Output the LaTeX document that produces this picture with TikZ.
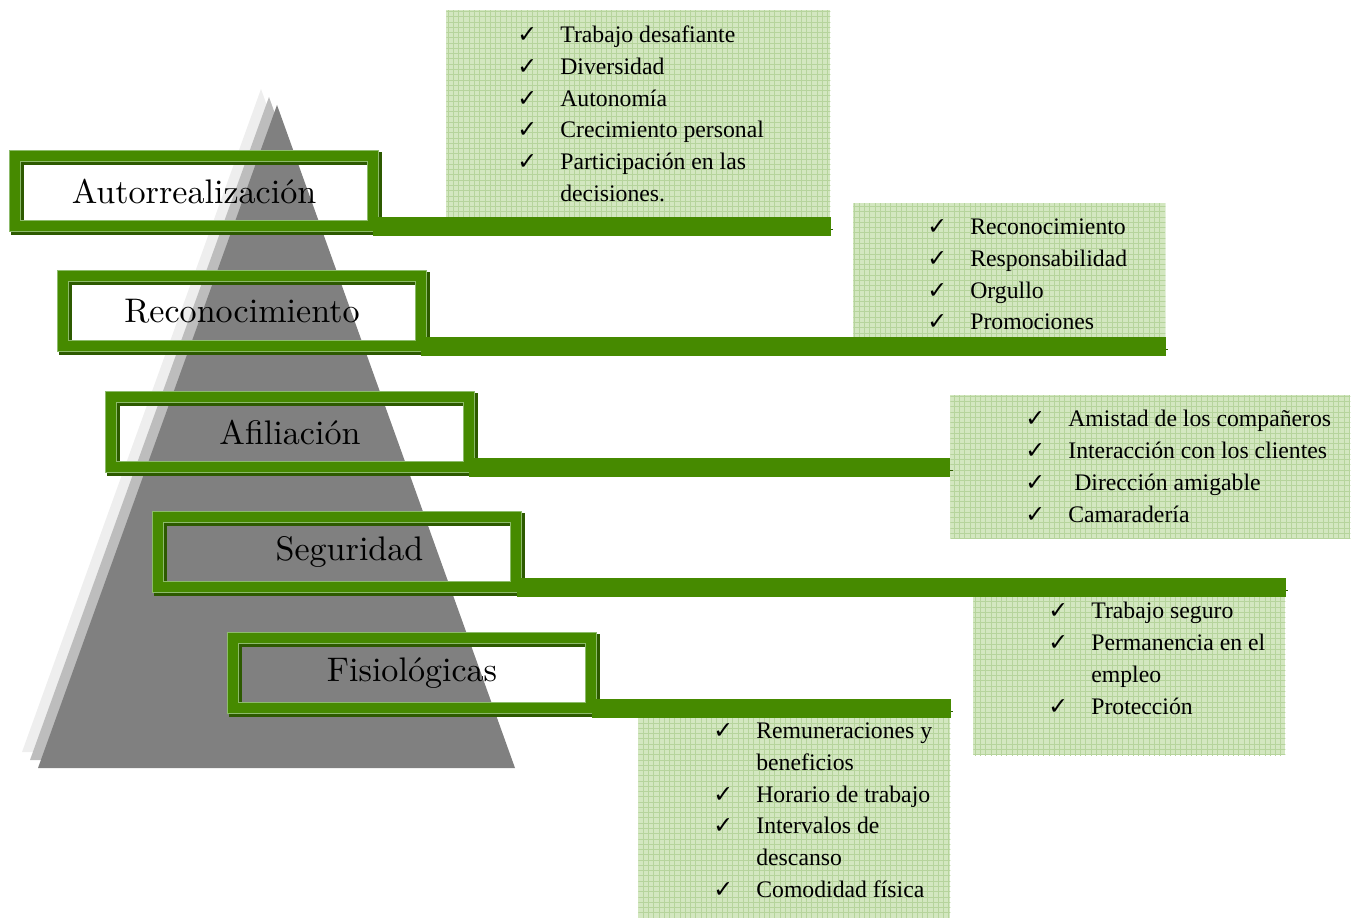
\documentclass[tikz,border=0pt]{standalone}
\usepackage{fontspec}
\usepackage{tikz}
\usetikzlibrary{patterns, positioning, calc}
\newfontfamily\listfont{Liberation Serif}
\newfontfamily\tickfont{DejaVu Sans}
\newfontfamily\levelfont{lmroman10-regular}[Extension=.otf]
\definecolor{FrameGreen}{HTML}{468A00}
\definecolor{EdgeGreen}{HTML}{8DBB6C}
\definecolor{ShadeGreen}{HTML}{2D5A00}
\definecolor{PaleGreen}{HTML}{D3E7C0}
\definecolor{GridGreen}{HTML}{B6D49C}
\definecolor{PyrGray}{HTML}{808080}
\definecolor{MidGray}{HTML}{BDBDBD}
\definecolor{LightGray}{HTML}{EEEEEE}
\newcommand{\tick}{\makebox[0.86cm][l]{\tickfont\fontsize{13.5}{13.5}\selectfont ✓}}
\tikzset{
    levelbox/.style={draw=EdgeGreen, double=FrameGreen, line width=0.6pt,
        double distance=0.2cm, minimum width=7.16cm, minimum height=1.4cm,
        font=\levelfont\fontsize{19.4}{22}\selectfont,
        preaction={draw=ShadeGreen, line width=0.25cm,
            transform canvas={shift={(1.5pt,-1.5pt)}}}},
    listbox/.style={rectangle, inner sep=0pt, anchor=north west,
        preaction={fill=PaleGreen}, pattern=grid, pattern color=GridGreen},
    listtext/.style={anchor=north west, inner sep=0pt, align=left,
        font=\listfont\fontsize{13.5}{18.2}\selectfont},
    bar/.style={draw=FrameGreen, line width=0.38cm,
        preaction={draw=ShadeGreen, transform canvas={shift={(1.5pt,-1.5pt)}}}}
}

\begin{document}
\begin{tikzpicture}[x=0.02cm, y=-0.02cm]
    \useasboundingbox (0,0) rectangle (1351,918);

    % Lists of needs
    \node[listbox, minimum width=7.68cm, minimum height=4.4cm] (needsA) at (446,10) {};
    \node[listbox, minimum width=6.24cm, minimum height=2.84cm] (needsB) at (853,203) {};
    \node[listbox, minimum width=8cm, minimum height=2.86cm] (needsC) at (950,395) {};
    \node[listbox, minimum width=6.24cm, minimum height=3.2cm] (needsD) at (973,595) {};
    \node[listbox, minimum width=6.24cm, minimum height=4.12cm] (needsE) at (638,712) {};

    \node[listtext] (itemsA) at (517,25) {\tick Trabajo desafiante\\
        \tick Diversidad\\ \tick Autonomía\\ \tick Crecimiento personal\\
        \tick Participación en las\\ \hspace*{0.86cm}decisiones.};
    \node[listtext] (itemsB) at (927,218) {\tick Reconocimiento\\
        \tick Responsabilidad\\ \tick Orgullo\\ \tick Promociones};
    \node[listtext] (itemsC) at (1025,410) {\tick Amistad de los compañeros\\
        \tick Interacción con los clientes\\ \tick\ Dirección amigable\\
        \tick Camaradería};
    \node[listtext] (itemsD) at (1048,602) {\tick Trabajo seguro\\
        \tick Permanencia en el\\ \hspace*{0.86cm}empleo\\ \tick Protección};
    \node[listtext] (itemsE) at (713,722) {\tick Remuneraciones y\\
        \hspace*{0.86cm}beneficios\\ \tick Horario de trabajo\\
        \tick Intervalos de\\ \hspace*{0.86cm}descanso\\ \tick Comodidad física};

    % Pyramid
    \fill[LightGray] (261,89) -- (22,752) -- (499,752) -- cycle;
    \fill[MidGray] (269,97) -- (30,760) -- (507,760) -- cycle;
    \fill[PyrGray] (277,105) -- (38,768) -- (515,768) -- cycle;

    % Levels
    \node[levelbox] (auto) at (194,191) {Autorrealización};
    \node[levelbox] (recon) at (242,311) {Reconocimiento};
    \node[levelbox] (afil) at (290,432) {Afiliación};
    \node[levelbox] (segur) at (337,552) {\hspace{0.5cm}Seguridad};
    \node[levelbox] (fisio) at (412,673) {Fisiológicas};

    % Bars
    \draw[bar] (auto.south east) -- (auto.south east -| needsA.east);
    \draw[bar] (recon.south east) -- (recon.south east -| needsB.east);
    \draw[bar] (afil.south east) -- (afil.south east -| needsC.west);
    \draw[bar] (segur.south east) -- (segur.south east -| needsD.east);
    \draw[bar] (fisio.south east) -- (fisio.south east -| needsE.east);
\end{tikzpicture}
\end{document}
